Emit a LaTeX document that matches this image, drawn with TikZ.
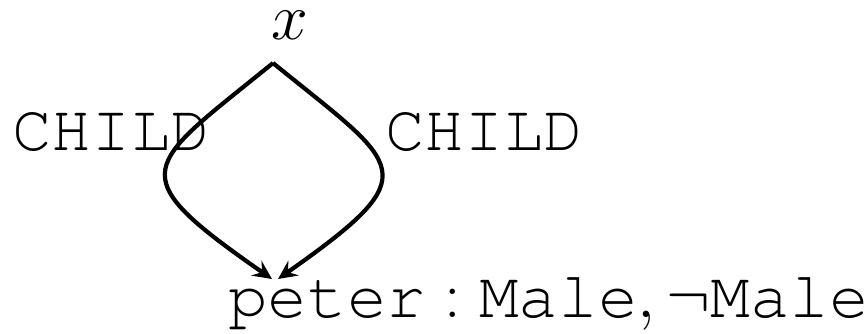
\RequirePackage{fix-cm}
\documentclass[tikz,border=0pt]{standalone}
\usepackage{fontspec}
\usetikzlibrary{arrows.meta}
\newcommand\cour[1]{\mbox{\fontencoding{OT1}\fontfamily{pcr}\selectfont #1}}
\begin{document}
\begin{tikzpicture}[x=1pt,y=-1pt,
  big/.style={font=\fontsize{66}{70}\selectfont, inner sep=0pt},
  edge/.style={line width=4.2pt, -{Stealth[length=19pt, width=18pt, inset=7pt]}}]
\useasboundingbox (0,0) rectangle (865,333);
\node[big, anchor=base] (x) at (290,39) {$x$};
\coordinate (top) at (273,63);
\coordinate (lt) at (272,279);
\coordinate (rt) at (278,279);
\draw[edge] (top) .. controls (144,168) and (118,172) .. (lt);
\draw[edge] (top) .. controls (402,168) and (430,172) .. (rt);
\node[big, anchor=base west] (cl) at (12,150) {\cour{CHILD}};
\node[big, anchor=base west] (cr) at (385,150) {\cour{CHILD}};
\node[big, anchor=base west] (p) at (228,317) {$\cour{peter}:\cour{Male},\neg\cour{Male}$};
\end{tikzpicture}
\end{document}
